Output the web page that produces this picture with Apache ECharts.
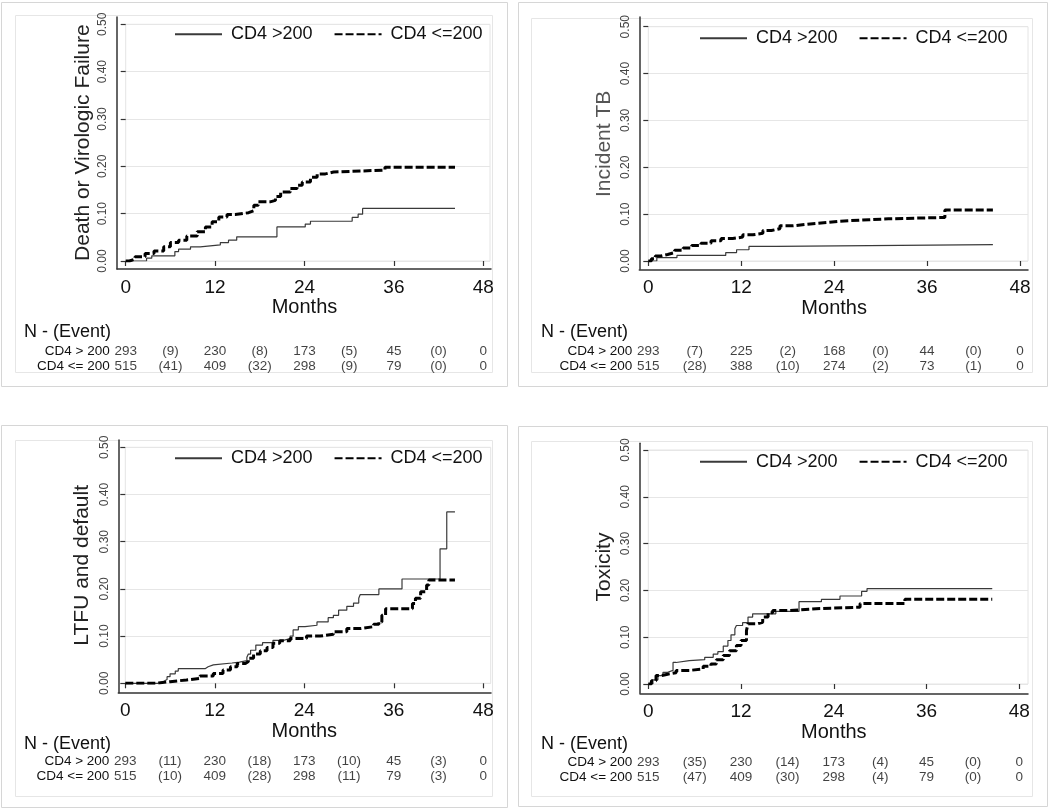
<!DOCTYPE html>
<html>
<head>
<meta charset="utf-8">
<script src="https://cdn.jsdelivr.net/npm/echarts@6/dist/echarts.min.js"></script>
<style>
html,body{margin:0;padding:0;background:#fff;}
#chart{width:1050px;height:812px;}
</style>
</head>
<body>
<div id="chart"></div>
<script>
// ---------------- DATA ----------------
const seriesNames = ['CD4 >200', 'CD4 <=200'];
const rowLabels = ['CD4 > 200', 'CD4 <= 200'];
const yTitles = ['Death or Virologic Failure', 'Incident TB', 'LTFU and default', 'Toxicity'];
const xTicks = [0, 12, 24, 36, 48];
const eventCols = [6, 18, 30, 42];

// Panel 1: Death or virologic failure  [month, cumulative incidence]
const p1Hi = [[0,0],[2.8,0.006],[3.5,0.011],[6.6,0.02],[7.1,0.025],[8.7,0.03],[10,0.034],[12.7,0.039],[13.8,0.044],[14.9,0.051],[20.3,0.072],[24.1,0.078],[24.8,0.084],[30.4,0.092],[31.2,0.099],[31.8,0.111],[44.2,0.111]];
const p1Lo = [[0,0],[0.5,0.004],[1.25,0.009],[2.6,0.016],[3.8,0.021],[5.1,0.03],[6.0,0.039],[7.1,0.044],[8.2,0.053],[9.6,0.062],[10.7,0.072],[11.6,0.083],[12.5,0.093],[13.6,0.098],[14.7,0.102],[16.5,0.106],[17.2,0.118],[17.8,0.125],[19.4,0.128],[20.1,0.136],[20.8,0.146],[22.1,0.153],[23,0.16],[23.7,0.167],[24.8,0.177],[25.7,0.184],[26.8,0.188],[27.9,0.192],[34.8,0.198],[44.2,0.198]];
// Panel 2: Incident TB
const p2Hi = [[0,0],[1.1,0.007],[3.7,0.012],[10,0.018],[11.4,0.024],[13,0.031],[16.5,0.035],[44.5,0.035]];
const p2Lo = [[0,0],[0.4,0.005],[0.9,0.0105],[1.6,0.014],[2.5,0.018],[3.4,0.023],[4.5,0.028],[5.6,0.033],[6.8,0.038],[8.1,0.043],[9.4,0.048],[10.9,0.051],[12.2,0.056],[13.5,0.059],[14.8,0.065],[15.9,0.069],[17,0.075],[18.7,0.079],[20.9,0.082],[23,0.085],[24.7,0.088],[28.5,0.09],[31,0.093],[38.3,0.109],[44.5,0.109]];
// Panel 3: LTFU and default
const p3Hi = [[0,0],[4.4,0.004],[5.1,0.008],[5.6,0.014],[6.0,0.02],[6.7,0.026],[7.1,0.031],[10.7,0.035],[11.1,0.039],[11.8,0.043],[14.3,0.045],[15.3,0.048],[16.3,0.055],[16.5,0.062],[16.8,0.07],[17.5,0.081],[18.4,0.086],[19.8,0.091],[21.2,0.095],[22.1,0.1],[22.5,0.113],[23.2,0.12],[24.1,0.123],[25.7,0.13],[27.2,0.139],[27.9,0.144],[28.6,0.155],[29.7,0.163],[30.6,0.17],[31.3,0.18],[31.5,0.188],[34,0.2],[37.1,0.221],[42.2,0.285],[43.1,0.363],[44.2,0.363]];
const p3Lo = [[0,0],[4.2,0.0035],[6,0.007],[8.2,0.0105],[10,0.0155],[11.8,0.021],[13.1,0.028],[14.1,0.035],[15,0.042],[16.1,0.046],[16.5,0.053],[17.2,0.062],[18.1,0.069],[19,0.076],[19.8,0.085],[20.7,0.09],[22.1,0.095],[24.3,0.1],[26.1,0.104],[27.9,0.109],[29.7,0.116],[31.5,0.12],[33.3,0.125],[34,0.13],[34.4,0.144],[34.9,0.158],[38.5,0.169],[38.9,0.18],[39.6,0.194],[40.4,0.208],[40.7,0.219],[44.2,0.219]];
// Panel 4: Toxicity
const p4Hi = [[0,0],[0.6,0.009],[1.25,0.018],[1.9,0.025],[2.5,0.029],[3.2,0.046],[3.6,0.05],[5.3,0.052],[7.3,0.057],[8.4,0.064],[9,0.069],[9.7,0.081],[10.3,0.093],[10.7,0.105],[11.2,0.118],[11.4,0.125],[12.2,0.131],[12.9,0.143],[13.5,0.15],[16.5,0.155],[19.5,0.176],[22.4,0.181],[24.8,0.188],[27.6,0.198],[28.3,0.204],[44.5,0.204]];
const p4Lo = [[0,0],[0.4,0.007],[1,0.018],[1.7,0.021],[2.5,0.024],[3.6,0.029],[5.3,0.032],[7.1,0.038],[8.1,0.043],[8.8,0.052],[9.7,0.061],[10.5,0.071],[11.4,0.082],[12,0.093],[12.7,0.114],[12.9,0.129],[14.2,0.132],[14.8,0.143],[15.5,0.152],[16.1,0.157],[18.3,0.161],[21.7,0.164],[27.4,0.172],[33.2,0.181],[44.5,0.181]];

// Number at risk and events
const p1HiN = [293, 230, 173, 45, 0], p1HiE = [9, 8, 5, 0];
const p1LoN = [515, 409, 298, 79, 0], p1LoE = [41, 32, 9, 0];
const p2HiN = [293, 225, 168, 44, 0], p2HiE = [7, 2, 0, 0];
const p2LoN = [515, 388, 274, 73, 0], p2LoE = [28, 10, 2, 1];
const p3HiN = [293, 230, 173, 45, 0], p3HiE = [11, 18, 10, 3];
const p3LoN = [515, 409, 298, 79, 0], p3LoE = [10, 28, 11, 3];
const p4HiN = [293, 230, 173, 45, 0], p4HiE = [35, 14, 4, 0];
const p4LoN = [515, 409, 298, 79, 0], p4LoE = [47, 30, 4, 0];

const curves = [[p1Hi, p1Lo], [p2Hi, p2Lo], [p3Hi, p3Lo], [p4Hi, p4Lo]];
const tables = [
  [[p1HiN, p1HiE], [p1LoN, p1LoE]],
  [[p2HiN, p2HiE], [p2LoN, p2LoE]],
  [[p3HiN, p3HiE], [p3LoN, p3LoE]],
  [[p4HiN, p4HiE], [p4LoN, p4LoE]]
];

// ---------------- LAYOUT (pixels) ----------------
const FONT = '"Liberation Sans", Arial, Helvetica, sans-serif';
const L = [
  {x0:125.7,x48:483.3,y0:261,y5:24.3,boxR:490,axL:117,axT:17,axR:491,axB:269,legL:174,legT:24.3,gapY:23,gapX:26,tTop:343.5,nt:[24,333],outer:[1.5,2.5,506,384],inner:[15.5,15.5,477,357],tc:'#222'},
  {x0:648.3,x48:1020,y0:261,y5:26.7,boxR:1028,axL:639.3,axT:17,axR:1028,axB:269.3,legL:699,legT:28.3,gapY:24.3,gapX:25.7,tTop:343.5,nt:[541,333.3],outer:[518.5,2.5,529,384],inner:[531.5,18.5,501,354],tc:'#555'},
  {x0:125.3,x48:483.3,y0:683.3,y5:447.3,boxR:490.7,axL:118.3,axT:440,axR:491,axB:692.7,legL:174,legT:448.3,gapY:25.6,gapX:29,tTop:754.2,nt:[24,745],outer:[1.5,425.5,506,382],inner:[15.5,440.5,477,356],tc:'#222'},
  {x0:648.3,x48:1019.3,y0:684,y5:450,boxR:1028,axL:640,axT:443.3,axR:1028,axB:693.3,legL:699,legT:451.7,gapY:25.7,gapX:28.4,tTop:754.5,nt:[541,745],outer:[518.5,426.5,529,380],inner:[531.5,441.5,501,355],tc:'#222'}
];

const grid = [], xAxis = [], yAxis = [], series = [], legend = [], graphic = [];

L.forEach((g, i) => {
  graphic.push({type:'rect', shape:{x:g.outer[0], y:g.outer[1], width:g.outer[2], height:g.outer[3]}, style:{fill:'#fff', stroke:'#d6d6d6', lineWidth:1}, z:-10});
  graphic.push({type:'rect', shape:{x:g.inner[0], y:g.inner[1], width:g.inner[2], height:g.inner[3]}, style:{fill:'#fff', stroke:'#e6e6e6', lineWidth:1}, z:-9});
  graphic.push({type:'text', left:g.nt[0], top:g.nt[1]-10, style:{text:'N - (Event)', font:'18px ' + FONT, fill:'#111'}});

  const base = i * 4;
  grid.push({left:g.x0, top:g.y5, width:g.x48-g.x0, height:g.y0-g.y5});
  grid.push({left:g.x0, top:g.y5, width:g.boxR-g.x0, height:g.y0-g.y5, show:true, borderColor:'#e4e4e4', borderWidth:1, backgroundColor:'transparent'});
  grid.push({left:g.axL, top:g.axT, width:g.axR-g.axL, height:g.axB-g.axT});
  grid.push({left:g.x0, top:g.tTop, width:g.x48-g.x0, height:30});

  xAxis.push({gridIndex:base, type:'value', min:0, max:48, interval:12, offset:g.axB-g.y0,
    axisLine:{show:false}, axisTick:{show:true, length:5, lineStyle:{color:'#333', width:1.2}},
    axisLabel:{fontSize:19, color:'#111', margin:9, fontFamily:FONT},
    splitLine:{show:false},
    name:'Months', nameLocation:'middle', nameGap:g.gapX, nameTextStyle:{fontSize:20, color:'#111', fontFamily:FONT}});
  yAxis.push({gridIndex:base, type:'value', min:0, max:0.5, interval:0.1, offset:g.x0-g.axL,
    axisLine:{show:false}, axisTick:{show:true, length:5, lineStyle:{color:'#333', width:1.2}},
    axisLabel:{fontSize:12, color:'#444', rotate:90, margin:8, fontFamily:FONT, formatter:v => v.toFixed(2)},
    splitLine:{show:false},
    name:yTitles[i], nameLocation:'middle', nameGap:g.gapY, nameTextStyle:{fontSize:21, color:g.tc, fontFamily:FONT}});

  xAxis.push({gridIndex:base+1, type:'value', min:0, max:49, show:false});
  yAxis.push({gridIndex:base+1, type:'value', min:0, max:0.5, interval:0.1,
    axisLine:{show:false}, axisTick:{show:false}, axisLabel:{show:false},
    splitLine:{show:true, lineStyle:{color:'#e6e6e6', width:1}}});

  xAxis.push({gridIndex:base+2, type:'value', min:0, max:1, axisLine:{show:true, onZero:false, lineStyle:{color:'#333', width:1.5}}, axisTick:{show:false}, axisLabel:{show:false}, splitLine:{show:false}});
  yAxis.push({gridIndex:base+2, type:'value', min:0, max:1, axisLine:{show:true, onZero:false, lineStyle:{color:'#333', width:1.5}}, axisTick:{show:false}, axisLabel:{show:false}, splitLine:{show:false}});

  xAxis.push({gridIndex:base+3, type:'value', min:0, max:48, show:false});
  yAxis.push({gridIndex:base+3, type:'category', data:rowLabels, inverse:true,
    axisLine:{show:false, onZero:false}, axisTick:{show:false},
    axisLabel:{fontSize:13.5, color:'#111', margin:16, interval:0, fontFamily:FONT}, splitLine:{show:false}});

  const [hi, lo] = curves[i];
  series.push({name:seriesNames[0], type:'line', step:'end', xAxisIndex:base, yAxisIndex:base, data:hi,
    symbol:'none', lineStyle:{color:'#3a3a3a', width:1.2}, itemStyle:{color:'#3a3a3a'}, z:3, silent:true});
  series.push({name:seriesNames[1], type:'line', step:'end', xAxisIndex:base, yAxisIndex:base, data:lo,
    symbol:'none', lineStyle:{color:'#000', width:3, type:[8,3]}, itemStyle:{color:'#000'}, z:4, silent:true});

  const tData = [];
  tables[i].forEach((row, r) => {
    row[0].forEach((n, k) => tData.push([xTicks[k], r, String(n)]));
    row[1].forEach((e, k) => tData.push([eventCols[k], r, '(' + e + ')']));
  });
  series.push({type:'scatter', xAxisIndex:base+3, yAxisIndex:base+3, data:tData, symbolSize:1,
    itemStyle:{color:'rgba(0,0,0,0)'}, silent:true,
    label:{show:true, position:'inside', formatter:p => p.data[2], fontSize:13.5, color:'#111', fontFamily:FONT}});

  legend.push({left:g.legL, top:g.legT, padding:0, itemWidth:47, itemHeight:14, itemGap:21,
    data:seriesNames, selectedMode:false, itemStyle:{opacity:0},
    textStyle:{fontSize:18, color:'#111', fontFamily:FONT, padding:[0,0,0,4], lineHeight:20}});
});

const chart = echarts.init(document.getElementById('chart'), null, {renderer:'canvas'});
chart.setOption({animation:false, backgroundColor:'#fff', textStyle:{fontFamily:FONT}, grid, xAxis, yAxis, series, legend, graphic});
</script>
</body>
</html>
